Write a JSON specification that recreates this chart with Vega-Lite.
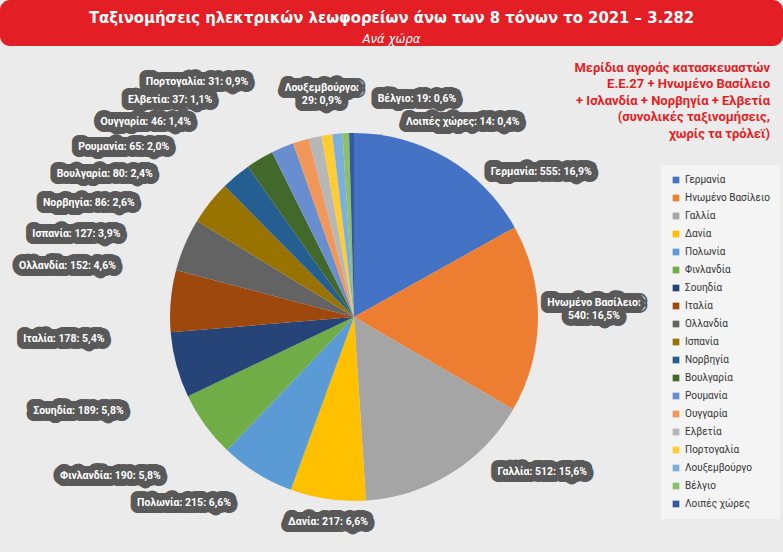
{
  "$schema": "https://vega.github.io/schema/vega-lite/v6.json",
  "background": "#ebebeb",
  "padding": 0,
  "spacing": 36,
  "bounds": "flush",
  "config": {"view": {"stroke": null}, "font": "Roboto"},
  "resolve": {"scale": {"color": "independent"}, "legend": {"color": "independent"}},
  "vconcat": [
    {
      "width": 783,
      "height": 46,
      "view": {"fill": "#E31E24", "stroke": null, "cornerRadius": 10},
      "layer": [
        {
          "data": {"values": [{"t": "Ταξινομήσεις ηλεκτρικών λεωφορείων άνω των 8 τόνων το 2021 – 3.282"}]},
          "mark": {"type": "text", "color": "#ffffff", "font": "DejaVu Sans Condensed", "fontSize": 16.5, "fontWeight": "bold", "dy": -5},
          "encoding": {"text": {"field": "t"}}
        },
        {
          "data": {"values": [{"t": "Ανά χώρα"}]},
          "mark": {"type": "text", "color": "#ffffff", "font": "DejaVu Sans Condensed", "fontSize": 13, "fontStyle": "italic", "dy": 16},
          "encoding": {"text": {"field": "t"}}
        }
      ]
    },
    {
      "width": 708,
      "height": 470,
      "title": {
        "text": ["Μερίδια αγοράς κατασκευαστών", "Ε.Ε.27 + Ηνωμένο Βασίλειο", "+  Ισλανδία + Νορβηγία + Ελβετία", "(συνολικές ταξινομήσεις,", "χωρίς τα τρόλεϊ)"],
        "orient": "top",
        "anchor": "end",
        "frame": "group",
        "align": "right",
        "offset": -64,
        "dx": 62,
        "color": "#E31E24",
        "font": "Roboto",
        "fontSize": 13,
        "fontWeight": "bold",
        "lineHeight": 16.5
      },
      "data": {
        "values": [
          {"order": 1, "country": "Γερμανία", "value": 555, "label": "Γερμανία: 555: 16,9%"},
          {"order": 2, "country": "Ηνωμένο Βασίλειο", "value": 540, "label": "Ηνωμένο Βασίλειο:\n540: 16,5%"},
          {"order": 3, "country": "Γαλλία", "value": 512, "label": "Γαλλία: 512: 15,6%"},
          {"order": 4, "country": "Δανία", "value": 217, "label": "Δανία: 217: 6,6%"},
          {"order": 5, "country": "Πολωνία", "value": 215, "label": "Πολωνία: 215: 6,6%"},
          {"order": 6, "country": "Φινλανδία", "value": 190, "label": "Φινλανδία: 190: 5,8%"},
          {"order": 7, "country": "Σουηδία", "value": 189, "label": "Σουηδία: 189: 5,8%"},
          {"order": 8, "country": "Ιταλία", "value": 178, "label": "Ιταλία: 178: 5,4%"},
          {"order": 9, "country": "Ολλανδία", "value": 152, "label": "Ολλανδία: 152: 4,6%"},
          {"order": 10, "country": "Ισπανία", "value": 127, "label": "Ισπανία: 127: 3,9%"},
          {"order": 11, "country": "Νορβηγία", "value": 86, "label": "Νορβηγία: 86: 2,6%"},
          {"order": 12, "country": "Βουλγαρία", "value": 80, "label": "Βουλγαρία: 80: 2,4%"},
          {"order": 13, "country": "Ρουμανία", "value": 65, "label": "Ρουμανία: 65: 2,0%"},
          {"order": 14, "country": "Ουγγαρία", "value": 46, "label": "Ουγγαρία: 46: 1,4%"},
          {"order": 15, "country": "Ελβετία", "value": 37, "label": "Ελβετία: 37: 1,1%"},
          {"order": 16, "country": "Πορτογαλία", "value": 31, "label": "Πορτογαλία: 31: 0,9%"},
          {"order": 17, "country": "Λουξεμβούργο", "value": 29, "label": "Λουξεμβούργο:\n29: 0,9%"},
          {"order": 18, "country": "Βέλγιο", "value": 19, "label": "Βέλγιο: 19: 0,6%"},
          {"order": 19, "country": "Λοιπές χώρες", "value": 14, "label": "Λοιπές χώρες: 14: 0,4%"}
        ]
      },
      "resolve": {"scale": {"theta": "independent", "radius": "independent"}},
      "layer": [
        {
          "mark": {"type": "arc", "outerRadius": 184},
          "encoding": {
            "theta": {"field": "value", "type": "quantitative", "stack": true},
            "order": {"field": "order", "type": "quantitative"},
            "color": {
              "field": "country",
              "type": "nominal",
              "scale": {
                "domain": ["Γερμανία", "Ηνωμένο Βασίλειο", "Γαλλία", "Δανία", "Πολωνία", "Φινλανδία", "Σουηδία", "Ιταλία", "Ολλανδία", "Ισπανία", "Νορβηγία", "Βουλγαρία", "Ρουμανία", "Ουγγαρία", "Ελβετία", "Πορτογαλία", "Λουξεμβούργο", "Βέλγιο", "Λοιπές χώρες"],
                "range": ["#4472C4", "#ED7D31", "#A5A5A5", "#FFC000", "#5B9BD5", "#70AD47", "#264478", "#9E480E", "#636363", "#997300", "#255E91", "#43682B", "#698ED0", "#F1975A", "#B7B7B7", "#FFCD33", "#7CAFDD", "#8CC168", "#335AA1"]
              },
              "legend": {
                "orient": "none",
                "legendX": 661,
                "legendY": 83,
                "direction": "vertical",
                "title": null,
                "fillColor": "#f4f4f4",
                "padding": 10,
                "symbolType": "square",
                "symbolSize": 45,
                "symbolStrokeWidth": 0,
                "labelFont": "Roboto",
                "labelFontSize": 10,
                "labelColor": "#333333",
                "labelOffset": 4,
                "labelLimit": 0,
                "rowPadding": 8
              }
            }
          }
        },
        {
          "mark": {"type": "text", "align": "center", "baseline": "middle", "font": "Roboto", "fontSize": 10.5, "fontWeight": "bold", "lineHeight": 13, "lineBreak": "\n", "fill": "#595959", "stroke": "#595959", "strokeWidth": 14, "strokeJoin": "round"},
          "encoding": {
            "theta": {"field": "order", "type": "quantitative", "stack": null, "scale": {"type": "linear", "domain": [1, 2, 3, 4, 5, 9, 16, 17, 18, 19], "range": [0.9111, 1.5132, 2.2602, 3.2673, 3.8816, 4.8887, 5.695, 6.1436, 6.5641, 6.7928]}},
            "radius": {"field": "order", "type": "quantitative", "scale": {"type": "linear", "zero": false, "domain": [1, 3, 4, 5, 6, 9, 16, 17, 19], "range": [237, 244, 207, 252, 291, 291, 283, 231, 223]}},
            "text": {"field": "label"}
          }
        },
        {
          "mark": {"type": "text", "align": "center", "baseline": "middle", "font": "Roboto", "fontSize": 10.5, "fontWeight": "bold", "lineHeight": 13, "lineBreak": "\n", "fill": "#ffffff"},
          "encoding": {
            "theta": {"field": "order", "type": "quantitative", "stack": null, "scale": {"type": "linear", "domain": [1, 2, 3, 4, 5, 9, 16, 17, 18, 19], "range": [0.9111, 1.5132, 2.2602, 3.2673, 3.8816, 4.8887, 5.695, 6.1436, 6.5641, 6.7928]}},
            "radius": {"field": "order", "type": "quantitative", "scale": {"type": "linear", "zero": false, "domain": [1, 3, 4, 5, 6, 9, 16, 17, 19], "range": [237, 244, 207, 252, 291, 291, 283, 231, 223]}},
            "text": {"field": "label"}
          }
        }
      ]
    }
  ]
}
